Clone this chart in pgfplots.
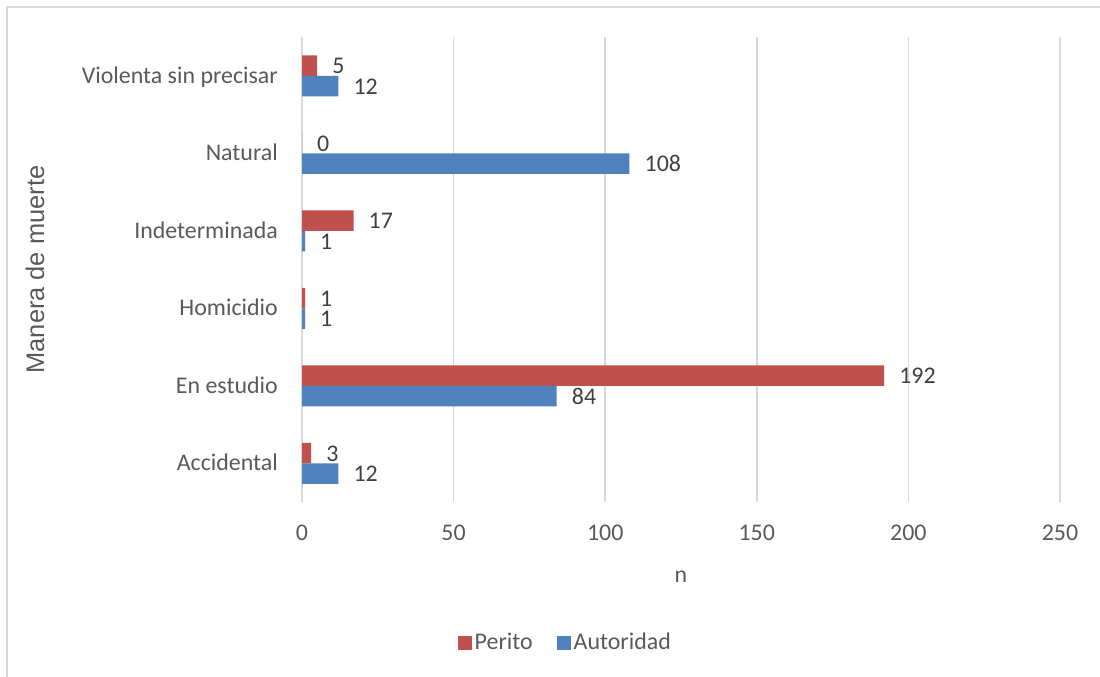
\documentclass[border=0pt]{standalone}
\usepackage{pgfplots}
\pgfplotsset{compat=1.18}
\usepackage{fontspec}
\setmainfont{Carlito}
\newfontfamily\arialfont{Liberation Sans}
\definecolor{perito}{HTML}{C0504D}
\definecolor{autoridad}{HTML}{4F81BD}
\definecolor{gridc}{HTML}{D9D9D9}
\definecolor{txt}{HTML}{595959}
\definecolor{lbl}{HTML}{404040}
\begin{document}
\fontsize{24}{28}\selectfont
\begin{tikzpicture}
\path[use as bounding box] (0bp,0bp) rectangle (1100bp,-677bp);
\draw[gridc, line width=1.5bp] (7bp,-677bp) -- (7bp,-7bp) -- (1100bp,-7bp);
\begin{axis}[
  at={(302bp,-502bp)}, anchor=south west,
  scale only axis, width=758bp, height=465bp,
  xbar, bar width=20.5bp,
  xmin=0, xmax=250, ymin=-0.5, ymax=5.5,
  xtick={0,50,...,250}, ytick={0,...,5},
  yticklabels={Accidental,En estudio,Homicidio,Indeterminada,Natural,Violenta sin precisar},
  axis line style={draw=none}, major tick length=0pt,
  xmajorgrids, grid style={gridc, line width=1.5bp},
  /pgf/number format/assume math mode=true,
  xticklabel style={text=txt, inner sep=0pt, yshift=-23bp},
  yticklabel style={anchor=base east, inner sep=0pt, xshift=-24bp, yshift=-7.5bp, text=txt},
  xlabel={n},
  xlabel style={at={(axis description cs:0.5,-0.1613)}, anchor=center, inner sep=0pt, text=txt},
  ylabel={\arialfont\fontsize{25.5}{30}\selectfont Manera de muerte},
  ylabel style={at={(axis description cs:-0.3522,0.5)}, anchor=center, inner sep=0pt, text=txt},
  nodes near coords,
  nodes near coords style={anchor=base west, inner sep=0pt, xshift=15bp, yshift=-8bp, text=lbl},
  legend style={at={(axis description cs:0.348,-0.303)}, anchor=center, draw=none, fill=none,
    legend columns=2, text=txt, inner sep=0pt,
    nodes={inner sep=2.5bp},
    /tikz/every even column/.append style={column sep=22bp}},
  legend image code/.code={\fill[#1] (0bp,-7bp) rectangle (14bp,7bp);},
]
\addplot[fill=perito, draw=none, bar shift=10.25bp] coordinates {
  (3,0) (192,1) (1,2) (17,3) (0,4) (5,5)
};
\addlegendentry{Perito}
\addplot[fill=autoridad, draw=none, bar shift=-10.25bp] coordinates {
  (12,0) (84,1) (1,2) (1,3) (108,4) (12,5)
};
\addlegendentry{Autoridad}
\end{axis}
\end{tikzpicture}
\end{document}
